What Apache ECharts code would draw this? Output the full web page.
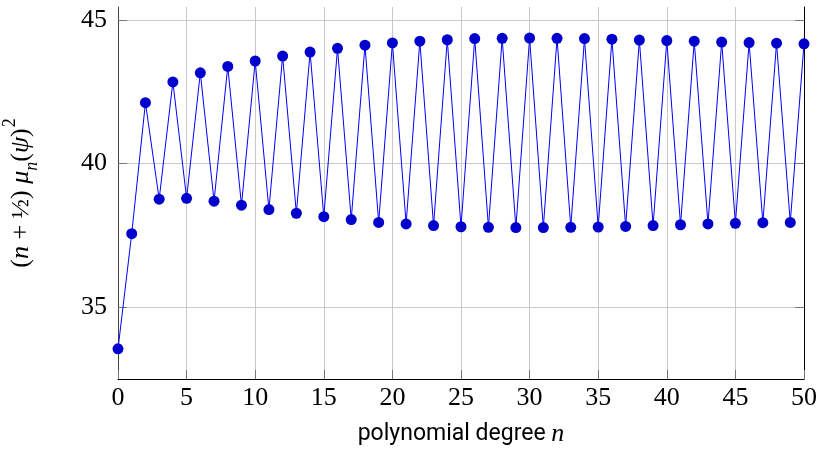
<!DOCTYPE html>
<html>
<head>
<meta charset="utf-8">
<script src="https://cdn.jsdelivr.net/npm/echarts@6/dist/echarts.min.js"></script>
<style>
  html, body { margin: 0; padding: 0; background: #fff; }
  #chart { width: 819px; height: 454px; }
</style>
</head>
<body>
<div id="chart"></div>
<script>
// polynomial degree n = 0..50
const degrees = Array.from({ length: 51 }, (_, i) => i);
// (n + 1/2) mu_n(psi)^2 for each degree
const scaledValues = [
  33.55, 37.56, 42.12, 38.76, 42.84, 38.79, 43.16, 38.69, 43.38, 38.55,
  43.57, 38.40, 43.74, 38.27, 43.88, 38.15, 44.01, 38.05, 44.12, 37.95,
  44.20, 37.90, 44.26, 37.84, 44.31, 37.80, 44.35, 37.78, 44.36, 37.77,
  44.37, 37.77, 44.36, 37.78, 44.35, 37.79, 44.33, 37.81, 44.30, 37.84,
  44.28, 37.87, 44.26, 37.90, 44.23, 37.92, 44.21, 37.94, 44.19, 37.95,
  44.17
];
const yTicks = [35, 40, 45];

const serif = '"Liberation Serif", "DejaVu Serif", serif';
const chart = echarts.init(document.getElementById('chart'), null, { renderer: 'canvas' });

const points = degrees.map((n, i) => [n, scaledValues[i]]);

chart.setOption({
  animation: false,
  backgroundColor: '#ffffff',
  grid: { left: 118, right: 15, top: 7, bottom: 75, containLabel: false, outerBoundsMode: 'none' },
  xAxis: {
    type: 'value',
    min: 0, max: 50, interval: 5,
    name: '{s|polynomial degree }{i|n}',
    nameLocation: 'middle',
    nameGap: 42,
    nameTextStyle: {
      rich: {
        s: { fontFamily: 'Roboto', fontSize: 23, color: '#000' },
        i: { fontFamily: serif, fontStyle: 'italic', fontSize: 26, color: '#000' }
      }
    },
    axisLine: { show: true, onZero: false, lineStyle: { color: '#000', width: 1 } },
    axisTick: { show: true, inside: true, length: 9, lineStyle: { color: '#777', width: 1 } },
    axisLabel: { fontFamily: serif, fontSize: 26, color: '#000', margin: 6 },
    splitLine: { show: true, lineStyle: { color: '#c8c8c8', width: 1 } }
  },
  yAxis: [
    {
      type: 'value',
      min: 32.5, max: 45.45,
      position: 'left',
      name: '{r|(}{i|n}{r| + ½) }{i|μ}{sb|n}{r|(}{i|ψ}{r|)}{sp|2}',
      nameLocation: 'middle',
      nameGap: 80,
      nameRotate: 90,
      nameTextStyle: {
        rich: {
          r: { fontFamily: serif, fontSize: 26, color: '#000', lineHeight: 34 },
          i: { fontFamily: serif, fontStyle: 'italic', fontSize: 26, color: '#000', lineHeight: 34 },
          sb: { fontFamily: serif, fontStyle: 'italic', fontSize: 18, color: '#000', lineHeight: 34, verticalAlign: 'bottom', padding: [0, 0, -3, 0] },
          sp: { fontFamily: serif, fontSize: 18, color: '#000', lineHeight: 34, verticalAlign: 'top', padding: [-3, 0, 0, 1] }
        }
      },
      axisLine: { show: true, onZero: false, lineStyle: { color: '#444', width: 1 } },
      axisTick: { show: true, inside: true, length: 9, customValues: yTicks, lineStyle: { color: '#777', width: 1 } },
      axisLabel: { fontFamily: serif, fontSize: 26, color: '#000', margin: 11, customValues: yTicks },
      splitLine: { show: true, lineStyle: { color: '#c8c8c8', width: 1 } }
    },
    {
      type: 'value',
      min: 32.5, max: 45.45,
      position: 'right',
      axisLine: { show: true, onZero: false, lineStyle: { color: '#000', width: 1 } },
      axisTick: { show: true, inside: true, length: 9, customValues: yTicks, lineStyle: { color: '#777', width: 1 } },
      axisLabel: { show: false },
      splitLine: { show: false }
    }
  ],
  series: [{
    type: 'line',
    data: points,
    clip: false,
    symbol: 'circle',
    symbolSize: 11,
    lineStyle: { color: '#0000ff', width: 1 },
    itemStyle: { color: '#0000cc' },
    z: 5
  }]
});
</script>
</body>
</html>
